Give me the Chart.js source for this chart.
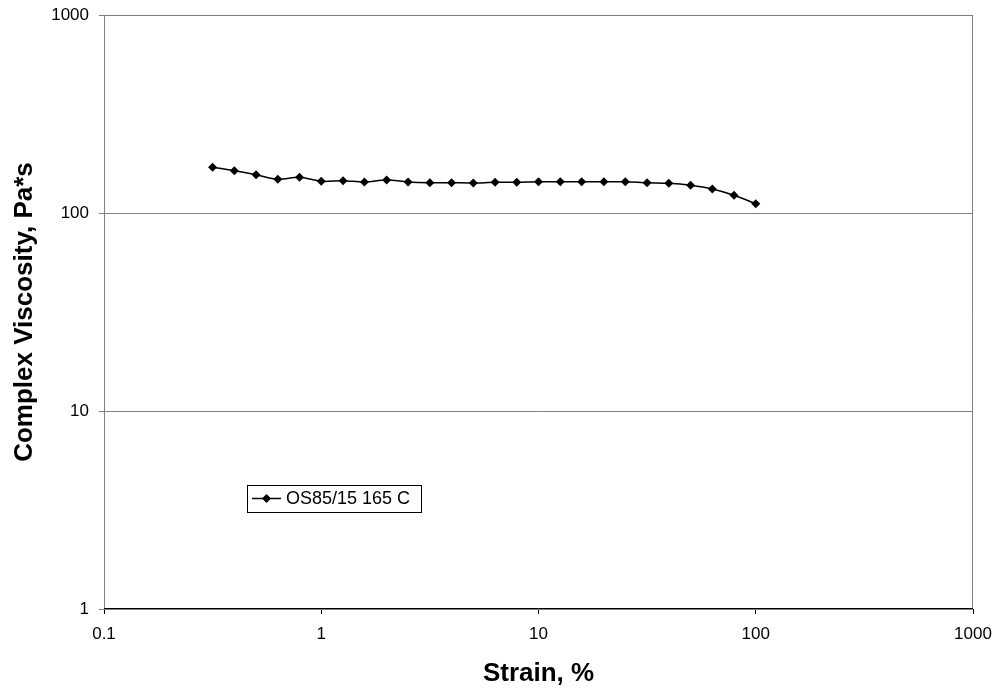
<!DOCTYPE html>
<html>
<head>
<meta charset="utf-8">
<script src="https://cdn.jsdelivr.net/npm/chart.js@4/dist/chart.umd.min.js"></script>
<style>
html,body{margin:0;padding:0;background:#fff;}
#wrap{width:998px;height:692px;position:relative;}
</style>
</head>
<body>
<div id="wrap"><canvas id="c" width="998" height="692"></canvas></div>
<script>
// Data
const strain = [0.316, 0.398, 0.501, 0.631, 0.794, 1, 1.26, 1.58, 2, 2.51, 3.16, 3.98, 5.01,
                6.31, 7.94, 10, 12.6, 15.8, 20, 25.1, 31.6, 39.8, 50.1, 63.1, 79.4, 100];
const viscosity = [170.2, 163.6, 156.1, 148.0, 151.5, 144.6, 145.6, 143.4, 146.8, 143.4, 142.2, 142.2, 141.7,
                   142.9, 142.9, 143.9, 143.9, 143.9, 143.9, 143.9, 142.2, 141.3, 138.0, 132.2, 122.9, 111.4];
const seriesLabel = "OS85/15 165 C";
const xTicks = [0.1, 1, 10, 100, 1000];
const yTicks = [1, 10, 100, 1000];
const xTitle = "Strain, %";
const yTitle = "Complex Viscosity, Pa*s";

const GRAY = '#808080';
const FONT = "'Liberation Sans', Arial, sans-serif";

function zeroPad(s) { s.paddingLeft = 0; s.paddingRight = 0; s.paddingTop = 0; s.paddingBottom = 0; }

const frame = {
  id: 'frame',
  beforeDraw(chart) {
    const {ctx} = chart;
    ctx.save();
    ctx.fillStyle = '#fff';
    ctx.fillRect(0, 0, chart.width, chart.height);
    ctx.restore();
  },
  afterDatasetsDraw(chart) {
    const {ctx, chartArea: a} = chart;
    ctx.save();
    ctx.strokeStyle = GRAY;
    ctx.lineWidth = 1;
    ctx.beginPath();
    ctx.moveTo(a.left + 0.5, a.bottom);
    ctx.lineTo(a.left + 0.5, a.top + 0.5);
    ctx.lineTo(a.right - 0.5, a.top + 0.5);
    ctx.lineTo(a.right - 0.5, a.bottom);
    ctx.stroke();
    ctx.strokeStyle = '#000';
    ctx.beginPath();
    ctx.moveTo(a.left, a.bottom - 0.5);
    ctx.lineTo(a.right, a.bottom - 0.5);
    ctx.stroke();
    ctx.restore();
  },
  afterDraw(chart) {
    // legend box inside plot area
    const {ctx} = chart;
    const ds = chart.data.datasets[0];
    const bx = 247, by = 485, bw = 174, bh = 27;
    ctx.save();
    ctx.fillStyle = '#fff';
    ctx.fillRect(bx, by, bw, bh);
    ctx.strokeStyle = '#000';
    ctx.lineWidth = 1;
    ctx.strokeRect(bx + 0.5, by + 0.5, bw, bh);
    const cy = by + 13.5;
    ctx.strokeStyle = '#000';
    ctx.lineWidth = 1.5;
    ctx.beginPath();
    ctx.moveTo(bx + 5, cy);
    ctx.lineTo(bx + 34, cy);
    ctx.stroke();
    ctx.fillStyle = '#000';
    ctx.beginPath();
    const mx = bx + 19.5, r = 4.5;
    ctx.moveTo(mx, cy - r); ctx.lineTo(mx + r, cy); ctx.lineTo(mx, cy + r); ctx.lineTo(mx - r, cy);
    ctx.closePath();
    ctx.fill();
    ctx.font = "18px " + FONT;
    ctx.textBaseline = 'middle';
    ctx.textAlign = 'left';
    ctx.fillText(ds.label, bx + 39, cy + 1);
    ctx.restore();
  }
};

new Chart(document.getElementById('c'), {
  type: 'line',
  data: {
    datasets: [{
      label: seriesLabel,
      data: strain.map((x, i) => ({x: x, y: viscosity[i]})),
      borderColor: '#000',
      backgroundColor: '#000',
      borderWidth: 1.5,
      pointStyle: 'rectRot',
      pointRadius: 4.5,
      pointBorderWidth: 0,
      pointBackgroundColor: '#000',
      tension: 0.3,
      fill: false
    }]
  },
  plugins: [frame],
  options: {
    responsive: false,
    animation: false,
    devicePixelRatio: 1,
    layout: {padding: {left: 0, right: 25, top: 15, bottom: 0}},
    plugins: {legend: {display: false}, tooltip: {enabled: false}},
    scales: {
      x: {
        type: 'logarithmic',
        min: 0.1, max: 1000,
        afterBuildTicks(s) { s.ticks = xTicks.map(v => ({value: v})); },
        afterFit(s) { s.height = 83; zeroPad(s); },
        ticks: {
          color: '#000',
          font: {family: FONT, size: 17},
          padding: 10,
          maxRotation: 0,
          autoSkip: false,
          callback: (v) => String(v)
        },
        grid: {drawOnChartArea: false, drawTicks: true, tickLength: 5, tickColor: '#000', color: '#000'},
        border: {display: false},
        title: {
          display: true, text: xTitle, color: '#000',
          font: {family: FONT, size: 26, weight: 'bold', lineHeight: 1.2},
          padding: {top: 0, bottom: 3}
        }
      },
      y: {
        type: 'logarithmic',
        min: 1, max: 1000,
        afterBuildTicks(s) { s.ticks = yTicks.map(v => ({value: v})); },
        afterFit(s) { s.width = 104; zeroPad(s); },
        ticks: {
          color: '#000',
          font: {family: FONT, size: 17},
          padding: 10,
          autoSkip: false,
          callback: (v) => String(v)
        },
        grid: {color: GRAY, lineWidth: 1, drawTicks: true, tickLength: 5, tickColor: GRAY},
        border: {display: false},
        title: {
          display: true, text: yTitle, color: '#000',
          font: {family: FONT, size: 26, weight: 'bold', lineHeight: 1.2},
          padding: {top: 9, bottom: 0}
        }
      }
    }
  }
});
</script>
</body>
</html>
